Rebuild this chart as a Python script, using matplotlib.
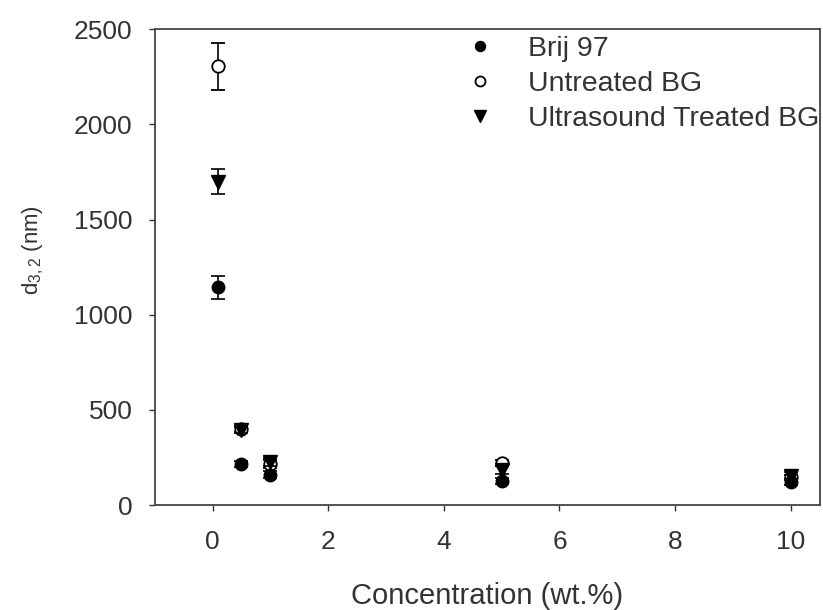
import matplotlib
matplotlib.use("Agg")
import matplotlib.pyplot as plt
from matplotlib import font_manager
import numpy as np

plt.rcParams["font.family"] = ["Liberation Sans", "DejaVu Sans"]
plt.rcParams["mathtext.fontset"] = "custom"
plt.rcParams["mathtext.rm"] = "Liberation Sans"
plt.rcParams["mathtext.it"] = "Liberation Sans"

conc = [0.1, 0.5, 1.0, 5.0, 10.0]

brij = [1145, 215, 160, 125, 120]
brij_err = [60, 15, 20, 15, 15]

untreated = [2305, 400, 215, 220, 145]
untreated_err = [125, 15, 20, 15, 15]

ultrasound = [1700, 395, 225, 185, 155]
ultrasound_err = [65, 15, 20, 20, 20]

# the y label in the original is squeezed; use a narrow face if there is one
try:
    font_manager.findfont("Liberation Sans Narrow", fallback_to_default=False)
    ylabel_font = dict(family="Liberation Sans Narrow", size=18)
except ValueError:
    ylabel_font = dict(family="Liberation Sans", size=16)

fig = plt.figure(figsize=(8.23, 6.10), dpi=100)
ax = fig.add_axes([0.188, 0.172, 0.808, 0.780])

err_kw = dict(ecolor="black", elinewidth=1.2, capsize=5, capthick=1.2, linestyle="none")
ax.errorbar(conc, untreated, yerr=untreated_err, marker="o", markersize=9,
            markerfacecolor="white", markeredgecolor="black", markeredgewidth=1.3,
            label="Untreated BG", zorder=3, **err_kw)
ax.errorbar(conc, ultrasound, yerr=ultrasound_err, marker="v", markersize=10,
            color="black", label="Ultrasound Treated BG", zorder=4, **err_kw)
ax.errorbar(conc, brij, yerr=brij_err, marker="o", markersize=9,
            color="black", label="Brij 97", zorder=5, **err_kw)

ax.set_xlim(-1, 10.5)
ax.set_ylim(0, 2500)
ax.set_xticks(np.arange(0, 11, 2))
ax.set_yticks(np.arange(0, 2501, 500))
ax.tick_params(direction="out", length=4, width=1, labelsize=19, colors="#333333")
ax.tick_params(axis="y", pad=12)
ax.tick_params(axis="x", pad=14)
for spine in ax.spines.values():
    spine.set_linewidth(1.3)
    spine.set_color("#444444")

ax.set_xlabel("Concentration (wt.%)", fontsize=21, labelpad=20, color="#333333")
ax.set_ylabel("d$_{3,2}$ (nm)", color="#333333", **ylabel_font)
ax.yaxis.set_label_coords(-0.163, 0.536)

handles, labels = ax.get_legend_handles_labels()
order = [labels.index(n) for n in ["Brij 97", "Untreated BG", "Ultrasound Treated BG"]]
leg = ax.legend([handles[i][0] for i in order], [labels[i] for i in order],
                loc="upper left", bbox_to_anchor=(0.463, 0.985), frameon=False,
                fontsize=20.5, handletextpad=1.1, labelspacing=0.3,
                handlelength=1.2, markerscale=0.8, borderaxespad=0, borderpad=0)
for text in leg.get_texts():
    text.set_color("#333333")

fig.savefig("out.png", dpi=100)
